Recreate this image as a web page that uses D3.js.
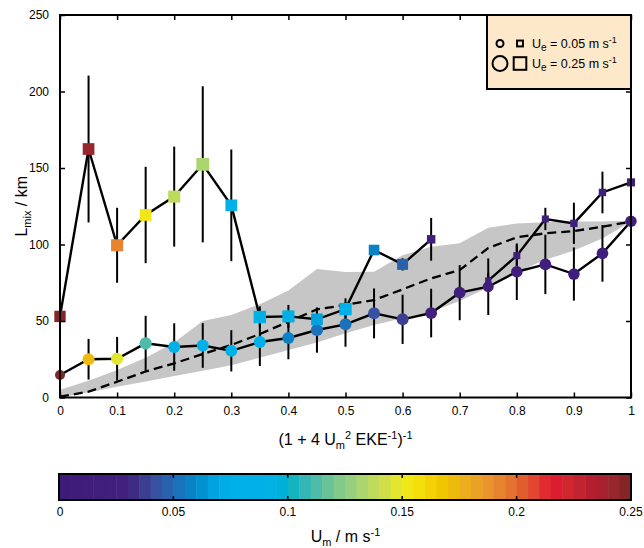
<!DOCTYPE html>
<html><head><meta charset="utf-8">
<script src="https://cdn.jsdelivr.net/npm/d3@7"></script>
<style>
html,body{margin:0;padding:0;background:#fff;}
svg text{font-family:"Liberation Sans",Arial,Helvetica,sans-serif;fill:#000;}
</style></head>
<body><svg id="c" width="644" height="548"></svg>
<script>
// ---------- data ----------
const xs = [0,0.05,0.1,0.15,0.2,0.25,0.3,0.35,0.4,0.45,0.5,0.55,0.6,0.65,0.7,0.75,0.8,0.85,0.9,0.95,1.0];

// circle series
const circVal = [14.7,25,25.3,35.4,33,34,30.5,36.3,38.9,44.1,47.8,55,51.1,55.2,68.5,72.4,82.2,87,80.7,94.2,115.2];
const circErr = [10,13.3,14.3,18,15.5,14.6,13.5,15.7,13.9,14.8,14.6,16.3,16.1,15.9,18,18.5,18.5,19.4,17.4,18.5,18];
const circUm  = [0.245,0.172,0.148,0.11,0.085,0.085,0.085,0.078,0.058,0.05,0.05,0.042,0.036,0.025,0.015,0.015,0.015,0.015,0.015,0.015,0.015];
const circUe  = [0.125,0.175,0.18,0.18,0.175,0.175,0.175,0.175,0.175,0.18,0.175,0.175,0.175,0.17,0.17,0.15,0.165,0.17,0.165,0.165,0.16];

// square series
const sqVal = [53,162.4,99.5,119.3,131.3,152.4,125.6,52.6,53,51.1,57.8,96.4,87,103.4,null,76.4,92.7,116.7,113.8,134,140.6];
const sqErr = [14,48,24.5,31.5,32.7,51,36.5,7,7.5,7.2,7,3,4,14,null,5,7,7.3,13.5,13.6,12];
const sqUm  = [0.25,0.244,0.19,0.152,0.138,0.13,0.085,0.085,0.085,0.068,0.075,0.055,0.045,0.02,null,0.015,0.015,0.015,0.015,0.015,0.015];
const sqUe  = [0.19,0.2,0.21,0.2,0.21,0.23,0.2,0.22,0.21,0.2,0.22,0.17,0.18,0.11,null,0.05,0.07,0.07,0.08,0.08,0.1];

// dashed reference line and grey band
const dashVal = [0.5,3.8,10.3,17,22.3,28.4,34.3,41.5,49.5,57.6,60.5,63.7,70.7,77.9,83.3,97.7,104.7,107.3,108.8,111.6,114.9];
const bandLo  = [0,3.5,7,10.5,14,17.5,21,26,31,36,42,47.4,51.8,56.1,63,72,82,90,96,104,115];
const bandHi  = [5,11,18,26,36,50,54,61,70,84,82,82.2,93,98.6,100.8,111,113.8,114.5,115,115,115.6];

// axis ticks
const xTicks = [0,0.1,0.2,0.3,0.4,0.5,0.6,0.7,0.8,0.9,1];
const xTickLabels = ["0","0.1","0.2","0.3","0.4","0.5","0.6","0.7","0.8","0.9","1"];
const yTicks = [0,50,100,150,200,250];
const cbTicks = [0,0.05,0.1,0.15,0.2,0.25];
const cbTickLabels = ["0","0.05","0.1","0.15","0.2","0.25"];
const legendUe = [0.05,0.25];
const legendLabels = ["0.05","0.25"];

// colormap stops (Um value, colour)
const cmapPos = [0,0.03,0.036,0.042,0.047,0.052,0.057,0.062,0.066,0.07,0.075,0.095,0.1,0.104,0.11,0.115,0.12,0.125,0.13,0.135,0.14,0.145,0.15,0.155,0.16,0.165,0.17,0.175,0.18,0.185,0.19,0.195,0.2,0.204,0.208,0.212,0.216,0.222,0.228,0.234,0.24,0.245,0.25];
const cmapCol = ["#3e1a78","#42217e","#3d3a8c","#3a4f9f","#2a5fab","#1c70ba","#0c80c4","#0090d0","#009ed8","#00aae4","#00b0e8","#00b2e6","#00b0c8","#20b4bc","#40b8b0","#5cc0a0","#78c690","#8ccc84","#a0d278","#b4d866","#c6dc52","#d8e040","#eeea1c","#f4e410","#f4d808","#f0cc00","#f0c000","#ecb418","#eca820","#ea9c28","#e88c30","#e47c30","#e26a2e","#e2562c","#e04430","#e02e30","#e01a30","#d02630","#c02430","#b01c30","#a02430","#8e2a2a","#7a2222"];
const nBands = 50;

// ---------- drawing ----------
const svg = d3.select("#c");
const L = 60, R = 631, T = 15, B = 397.5;
const x = d3.scaleLinear().domain([0,1]).range([L,R]);
const y = d3.scaleLinear().domain([0,250]).range([B,T]);
const cmapInterp = d3.scaleLinear().domain(cmapPos).range(cmapCol).interpolate(d3.interpolateRgb).clamp(true);
const bandColor = v => { let i = Math.min(nBands-1, Math.floor(v/0.25*nBands)); return cmapInterp((i+0.5)/nBands*0.25); };
const dia = d3.scaleLinear().domain([0.05,0.25]).range([7,15]);

const pts = xs.map((xv,i)=>({x:xv, c:circVal[i], ce:circErr[i], cu:circUm[i], cue:circUe[i],
  s:sqVal[i], se:sqErr[i], su:sqUm[i], sue:sqUe[i], d:dashVal[i], lo:bandLo[i], hi:bandHi[i]}));

// grey band
svg.append("path").datum(pts)
  .attr("d", d3.area().x(d=>x(d.x)).y0(d=>y(d.lo)).y1(d=>y(d.hi)))
  .attr("fill","#c6c6c6");

// dashed line
svg.append("path").datum(pts)
  .attr("d", d3.line().x(d=>x(d.x)).y(d=>y(d.d)))
  .attr("fill","none").attr("stroke","#000").attr("stroke-width",2.3).attr("stroke-dasharray","9,5");

// error bars
const eb = svg.append("g").attr("stroke","#000").attr("stroke-width",2);
pts.forEach(p=>{
  eb.append("line").attr("x1",x(p.x)).attr("x2",x(p.x)).attr("y1",y(p.c-p.ce)).attr("y2",y(p.c+p.ce));
  if (p.s!=null) eb.append("line").attr("x1",x(p.x)).attr("x2",x(p.x)).attr("y1",y(p.s-p.se)).attr("y2",y(p.s+p.se));
});

// connecting lines
svg.append("path").datum(pts)
  .attr("d", d3.line().x(d=>x(d.x)).y(d=>y(d.c)))
  .attr("fill","none").attr("stroke","#000").attr("stroke-width",2.4);
svg.append("path").datum(pts)
  .attr("d", d3.line().defined(d=>d.s!=null).x(d=>x(d.x)).y(d=>y(d.s)))
  .attr("fill","none").attr("stroke","#000").attr("stroke-width",2.4);

// markers
svg.append("g").selectAll("circle").data(pts).join("circle")
  .attr("cx",d=>x(d.x)).attr("cy",d=>y(d.c)).attr("r",d=>dia(d.cue)/2)
  .attr("fill",d=>bandColor(d.cu));
svg.append("g").selectAll("rect").data(pts.filter(d=>d.s!=null)).join("rect")
  .attr("x",d=>x(d.x)-dia(d.sue)*0.45).attr("y",d=>y(d.s)-dia(d.sue)*0.45)
  .attr("width",d=>dia(d.sue)*0.9).attr("height",d=>dia(d.sue)*0.9)
  .attr("fill",d=>bandColor(d.su));

// axes
const fmtX = (d,i)=>xTickLabels[i];
const gxB = svg.append("g").attr("transform",`translate(0,${B})`)
  .call(d3.axisBottom(x).tickValues(xTicks).tickFormat(fmtX).tickSize(-5).tickPadding(9));
const gxT = svg.append("g").attr("transform",`translate(0,${T})`)
  .call(d3.axisTop(x).tickValues(xTicks).tickFormat("").tickSize(-5));
const gyL = svg.append("g").attr("transform",`translate(${L},0)`)
  .call(d3.axisLeft(y).tickValues(yTicks).tickFormat(d3.format("d")).tickSize(-5).tickPadding(11));
const gyR = svg.append("g").attr("transform",`translate(${R},0)`)
  .call(d3.axisRight(y).tickValues(yTicks).tickFormat("").tickSize(-5));
[gxB,gxT,gyL,gyR].forEach(g=>{
  g.select(".domain").remove();
  g.selectAll(".tick line").attr("stroke","#000").attr("stroke-width",1.5);
  g.selectAll(".tick text").attr("font-size",12).attr("font-family","Liberation Sans, Arial, sans-serif").attr("fill","#000");
});
svg.append("rect").attr("x",L).attr("y",T).attr("width",R-L).attr("height",B-T)
  .attr("fill","none").attr("stroke","#000").attr("stroke-width",2);

// axis labels
const xl = svg.append("text").attr("x",(L+R)/2).attr("y",445).attr("text-anchor","middle").attr("font-size",16);
xl.append("tspan").text("(1 + 4 U");
xl.append("tspan").attr("font-size",11).attr("dy",4).text("m");
xl.append("tspan").attr("font-size",11).attr("dy",-10).text("2");
xl.append("tspan").attr("dy",6).text(" EKE");
xl.append("tspan").attr("font-size",11).attr("dy",-6).text("-1");
xl.append("tspan").attr("dy",6).text(")");
xl.append("tspan").attr("font-size",11).attr("dy",-6).text("-1");

const yl = svg.append("text").attr("transform",`translate(27,${(T+B)/2}) rotate(-90)`)
  .attr("text-anchor","middle").attr("font-size",16);
yl.append("tspan").text("L");
yl.append("tspan").attr("font-size",11).attr("dy",4).text("mix");
yl.append("tspan").attr("dy",-4).text(" / km");

// legend
const lg = svg.append("g");
lg.append("rect").attr("x",487).attr("y",15).attr("width",144).attr("height",74)
  .attr("fill","#fde9c9").attr("stroke","#000").attr("stroke-width",2);
legendUe.forEach((u,i)=>{
  const cy = 43.5 + i*20;
  const d = dia(u);
  lg.append("circle").attr("cx",500).attr("cy",cy).attr("r",d/2).attr("fill","none").attr("stroke","#000").attr("stroke-width",2);
  lg.append("rect").attr("x",520-d*0.42).attr("y",cy-d*0.42).attr("width",d*0.84).attr("height",d*0.84)
    .attr("fill","none").attr("stroke","#000").attr("stroke-width",2);
  const t = lg.append("text").attr("x",532).attr("y",cy+4.5).attr("font-size",12.5);
  t.append("tspan").text("U");
  t.append("tspan").attr("font-size",10).attr("dy",3).text("e");
  t.append("tspan").attr("dy",-3).text(" = " + legendLabels[i] + " m s");
  t.append("tspan").attr("font-size",9).attr("dy",-5).text("-1");
});

// colorbar
const cx = d3.scaleLinear().domain([0,0.25]).range([59,631]);
const cbT = 474, cbB = 500;
const bands = d3.range(nBands);
svg.append("g").selectAll("rect").data(bands).join("rect")
  .attr("x",i=>cx(i*0.25/nBands)).attr("y",cbT)
  .attr("width",i=>cx((i+1)*0.25/nBands)-cx(i*0.25/nBands)+0.5).attr("height",cbB-cbT)
  .attr("fill",i=>bandColor((i+0.5)*0.25/nBands));
const cbg = svg.append("g").attr("stroke","#000").attr("stroke-width",1.5);
cbTicks.slice(1,-1).forEach(v=>{
  cbg.append("line").attr("x1",cx(v)).attr("x2",cx(v)).attr("y1",cbT).attr("y2",cbT+4);
  cbg.append("line").attr("x1",cx(v)).attr("x2",cx(v)).attr("y1",cbB).attr("y2",cbB-4);
});
svg.append("rect").attr("x",59).attr("y",cbT).attr("width",572).attr("height",cbB-cbT)
  .attr("fill","none").attr("stroke","#000").attr("stroke-width",2);
svg.append("g").selectAll("text").data(cbTicks).join("text")
  .attr("x",d=>cx(d)+ (d===0?1:0)).attr("y",516).attr("text-anchor","middle").attr("font-size",12)
  .text((d,i)=>cbTickLabels[i]);
const ct = svg.append("text").attr("x",(L+R)/2).attr("y",542).attr("text-anchor","middle").attr("font-size",16);
ct.append("tspan").text("U");
ct.append("tspan").attr("font-size",11).attr("dy",4).text("m");
ct.append("tspan").attr("dy",-4).text(" / m s");
ct.append("tspan").attr("font-size",11).attr("dy",-6).text("-1");
</script></body></html>
